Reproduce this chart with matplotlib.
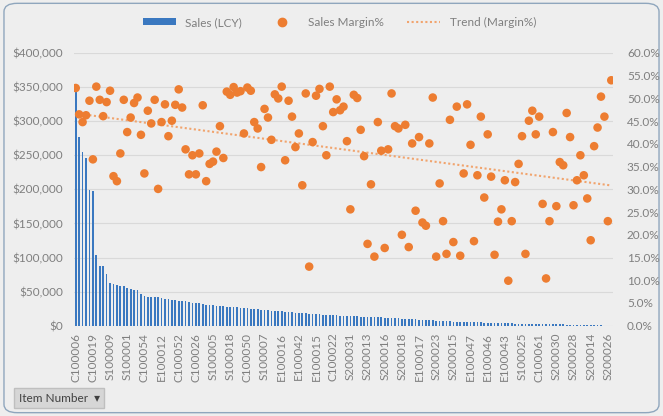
import matplotlib
matplotlib.use("Agg")
import matplotlib.pyplot as plt
import numpy as np
from matplotlib.lines import Line2D
from matplotlib.patches import FancyBboxPatch, Patch
from matplotlib.ticker import FuncFormatter, MultipleLocator

plt.rcParams["font.family"] = ["Lato", "DejaVu Sans"]

# Sales (LCY) per item, sorted descending as in the pivot chart
sales = [
    349000, 277000, 255000, 246000, 199000, 197000, 103000, 88000, 87000, 76000,
    62000, 61000, 59000, 58500, 58000, 55000, 54000, 53000, 52000, 46000,
    43000, 42500, 42000, 42000, 41500, 41000, 39500, 39000, 37500, 37000,
    36500, 36000, 35500, 35000, 34000, 33500, 33000, 32000, 31000, 30500,
    30000, 29500, 29000, 28500, 28000, 27500, 27000, 26800, 26500, 26000,
    25500, 25000, 24500, 24000, 23500, 23000, 22500, 22000, 21800, 21500,
    21000, 20500, 20000, 19500, 19000, 18800, 18500, 18000, 17500, 17200,
    17000, 16500, 16000, 15800, 15500, 15200, 15000, 14700, 14500, 14200,
    14000, 13800, 13600, 13400, 13200, 13000, 12800, 12600, 12400, 12200,
    12000, 11700, 11400, 11100, 10800, 10500, 10200, 9900, 9600, 9300,
    9000, 8700, 8400, 8100, 7800, 7500, 7200, 6900, 6600, 6300,
    6000, 5800, 5600, 5400, 5200, 5000, 4900, 4800, 4700, 4600,
    4500, 4400, 4200, 4000, 3800, 3600, 3400, 3300, 3200, 3100,
    3000, 2900, 2800, 2700, 2600, 2500, 2400, 2300, 2200, 2100,
    2000, 1900, 1800, 1700, 1600, 1500, 1400, 1300, 1200, 1100,
    1000, 800, 600, 400, 200, 100, 50,
]

# Sales Margin% per item (same order)
margin = [
    52.3, 46.5, 44.8, 46.3, 49.5, 36.6, 52.6, 49.7, 46.1, 49.2,
    51.7, 32.9, 31.8, 37.9, 49.7, 42.6, 45.8, 49.0, 50.2, 42.0,
    33.5, 47.3, 44.5, 49.7, 30.1, 44.8, 48.7, 41.7, 45.1, 48.6,
    52.0, 48.0, 38.8, 33.3, 37.5, 33.3, 37.9, 48.5, 31.8, 35.6,
    36.1, 38.3, 43.9, 36.9, 51.5, 50.8, 52.5, 51.3, 51.6, 42.3,
    52.4, 51.7, 44.8, 43.4, 34.9, 47.7, 45.8, 40.9, 50.9, 50.0,
    52.6, 36.4, 49.5, 46.0, 39.3, 42.3, 30.9, 51.1, 13.0, 40.4,
    50.6, 52.1, 43.9, 37.5, 52.6, 47.0, 49.8, 47.4, 48.2, 40.6,
    25.6, 50.8, 50.1, 43.1, 37.3, 18.0, 31.1, 15.2, 44.8, 38.5,
    17.1, 38.8, 51.1, 43.9, 43.4, 20.0, 44.2, 17.3, 40.1, 25.3,
    41.5, 22.7, 22.0, 40.1, 50.2, 15.2, 31.3, 23.0, 15.8, 45.3,
    18.4, 48.2, 15.4, 33.5, 48.7, 39.8, 18.6, 33.1, 46.0, 28.2,
    42.1, 32.8, 15.6, 22.9, 25.6, 32.0, 9.9, 23.0, 31.6, 35.6,
    41.7, 15.8, 45.1, 47.3, 42.1, 46.0, 26.8, 10.4, 23.0, 42.6,
    26.3, 36.0, 35.3, 46.8, 41.5, 26.5, 32.0, 37.5, 33.1, 28.0,
    18.8, 39.5, 43.6, 50.4, 46.0, 23.0, 54.0,
]

# every 5th item number is shown on the axis
tick_labels = [
    "C100006", "C100019", "S100009", "S100001", "C100054", "E100012", "C100052", "C100026",
    "S100005", "S100018", "C100050", "S100007", "E100016", "E100042", "E100015", "C100022",
    "S200031", "S200013", "S200016", "S200018", "E100017", "S200023", "S200015", "E100047",
    "E100046", "E100043", "S100025", "C100061", "S200030", "S200028", "S200014", "S200026",
]

BG = "#EEEEEE"
GRID = "#D9D9D9"
TXT = "#7F7F7F"
BLUE = "#3A78C0"
ORANGE = "#ED7D31"

fig = plt.figure(figsize=(6.63, 4.16), dpi=100, facecolor=BG)
fig.patches.append(FancyBboxPatch(
    (0.006, 0.008), 0.988, 0.984, boxstyle="round,pad=0,rounding_size=0.02",
    transform=fig.transFigure, facecolor=BG, edgecolor="#8FA6BD", linewidth=1.0, zorder=-5))

ax = fig.add_axes([74 / 663, 1 - 325.7 / 416, 539 / 663, 272.7 / 416])
ax.set_facecolor("none")
x = np.arange(len(sales))

ax.bar(x, sales, width=0.5, color=BLUE, zorder=2)
ax.set_ylim(0, 400000)
ax.set_xlim(-0.5, len(sales) - 0.5)
ax.yaxis.set_major_locator(MultipleLocator(50000))
ax.yaxis.set_major_formatter(FuncFormatter(lambda v, _: f"${v:,.0f}"))
ax.grid(axis="y", color=GRID, linewidth=0.8, zorder=0)
ax.set_axisbelow(True)

ax.set_xticks(x[::5])
ax.set_xticklabels(tick_labels, rotation=90, fontsize=8.5, color=TXT)
ax.tick_params(axis="x", length=0, pad=5)
ax.tick_params(axis="y", length=0, labelsize=8.5, labelcolor=TXT, pad=8)
for s in ax.spines.values():
    s.set_visible(False)

ax2 = ax.twinx()
ax2.set_ylim(0, 60)
ax2.yaxis.set_major_locator(MultipleLocator(5))
ax2.yaxis.set_major_formatter(FuncFormatter(lambda v, _: f"{v:.1f}%"))
ax2.tick_params(axis="y", length=0, labelsize=8.5, labelcolor=TXT, pad=10)
for s in ax2.spines.values():
    s.set_visible(False)

m = np.array(margin)
ax2.scatter(x, m, s=38, color=ORANGE, edgecolors="none", zorder=4)
coef = np.polyfit(x, m, 1)
ax2.plot(x, np.polyval(coef, x), color="#F1A46E", linewidth=1.5,
         linestyle=(0, (1, 1.2)), zorder=3)

handles = [
    Patch(facecolor=BLUE, edgecolor="none"),
    Line2D([], [], marker="o", linestyle="none", color=ORANGE, markersize=6),
    Line2D([], [], color="#F1A46E", linewidth=1.5, linestyle=(0, (1, 1.2))),
]
fig.legend(handles, ["Sales (LCY)", "Sales Margin%", "Trend (Margin%)"],
           loc="center", bbox_to_anchor=(0.512, 0.946), ncol=3, frameon=False,
           fontsize=8.5, labelcolor=TXT, handlelength=2.8, handleheight=0.5,
           columnspacing=2.0)

fig.text(0.028, 0.030, "Item Number  \u25BE", fontsize=8.5, color="#404040",
         ha="left", va="bottom",
         bbox=dict(boxstyle="square,pad=0.35", facecolor="#D6D6D6", edgecolor="#BFBFBF"))

fig.savefig("out.png", dpi=100, facecolor=BG)
